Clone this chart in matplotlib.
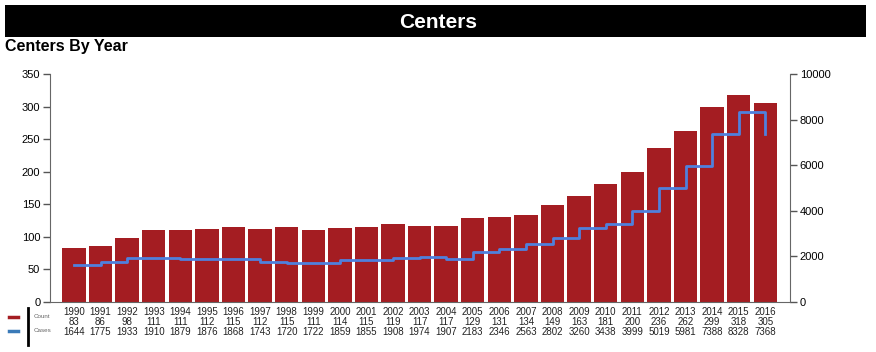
import matplotlib
matplotlib.use("Agg")
import matplotlib.pyplot as plt
from matplotlib.patches import Rectangle
import numpy as np

years = [str(y) for y in range(1990, 2017)]
counts = [83, 86, 98, 111, 111, 112, 115, 112, 115, 111, 114, 115, 119, 117, 117,
          129, 131, 134, 149, 163, 181, 200, 236, 262, 299, 318, 305]
cases = [1644, 1775, 1933, 1910, 1879, 1876, 1868, 1743, 1720, 1722, 1859, 1855, 1908,
         1974, 1907, 2183, 2346, 2563, 2802, 3260, 3438, 3999, 5019, 5981, 7388, 8328, 7368]
left_ticks = [0, 50, 100, 150, 200, 250, 300, 350]
right_ticks = [0, 2000, 4000, 6000, 8000, 10000]

plt.rcParams['font.family'] = ['Liberation Sans', 'DejaVu Sans']
W, H = 876, 352
fig = plt.figure(figsize=(W / 100, H / 100), dpi=100)

# banner
fig.patches.append(Rectangle((5 / W, 1 - 37 / H), 861 / W, 32 / H, transform=fig.transFigure,
                             facecolor='black', edgecolor='none'))
fig.text(0.5, 1 - 22 / H, 'Centers', color='white', fontsize=15, fontweight='bold',
         ha='center', va='center')
fig.text(5 / W, 1 - 47 / H, 'Centers By Year', color='black', fontsize=11.5, fontweight='bold',
         ha='left', va='center')

ax = fig.add_axes([50 / W, 1 - 302 / H, 740 / W, 228 / H])
x = np.arange(len(years))
ax.bar(x, counts, width=0.88, color='#a41d22', zorder=2)
ax.set_xlim(-0.9, 26.93)
ax.set_ylim(0, 350)
ax.set_yticks(left_ticks)
ax.tick_params(axis='y', labelsize=8, length=5, color='#555555', width=1, pad=2)
for s in ['top', 'right']:
    ax.spines[s].set_visible(False)
ax.spines['left'].set_color('#666666')
ax.spines['bottom'].set_color('#666666')
ax.set_xticks([4, 9, 14, 19, 24])
ax.set_xticklabels([])
ax.tick_params(axis='x', direction='in', length=3, color='#555555')

ax2 = ax.twinx()
ax2.step(x, cases, where='post', color='#4f80dd', linewidth=2, zorder=3)
ax2.set_ylim(0, 10000)
ax2.set_yticks(right_ticks)
ax2.tick_params(axis='y', labelsize=8, length=5, color='#555555', width=1, pad=2)
for s in ['top', 'left', 'bottom']:
    ax2.spines[s].set_visible(False)
ax2.spines['right'].set_color('#666666')

# data table under the axis
trans = ax.get_xaxis_transform()
for i in range(len(years)):
    for row, txt in enumerate([years[i], str(counts[i]), str(cases[i])]):
        y_pix = 312 + row * 10
        ax.text(x[i], 1 - y_pix / H, txt, transform=matplotlib.transforms.blended_transform_factory(
            ax.transData, fig.transFigure), ha='center', va='center', fontsize=7, color='#222222')

# legend block
fig.add_artist(plt.Line2D([9 / W, 18 / W], [1 - 317 / H, 1 - 317 / H], color='#a41d22', lw=2.5,
                          transform=fig.transFigure))
fig.add_artist(plt.Line2D([9 / W, 18 / W], [1 - 331 / H, 1 - 331 / H], color='#3a7ab8', lw=2.5,
                          transform=fig.transFigure))
fig.add_artist(plt.Line2D([28 / W, 28 / W], [1 - 308 / H, 1 - 345 / H], color='black', lw=2,
                          transform=fig.transFigure))
fig.text(34 / W, 1 - 317 / H, 'Count', fontsize=4.5, color='#666666', va='center')
fig.text(34 / W, 1 - 331 / H, 'Cases', fontsize=4.5, color='#666666', va='center')

fig.savefig('out.png', dpi=100)
